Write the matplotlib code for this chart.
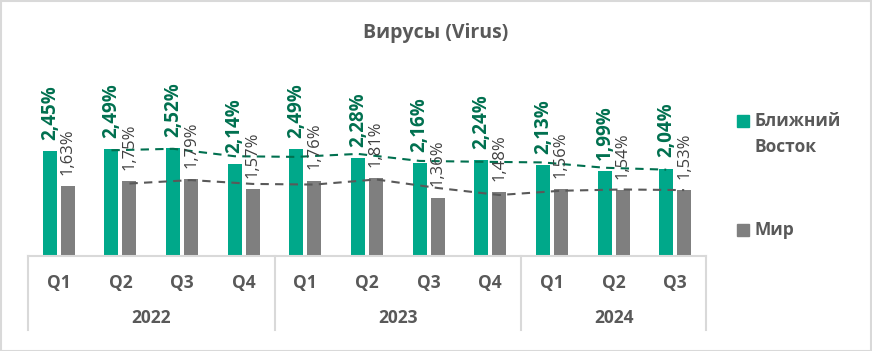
import numpy as np
import pandas as pd
from matplotlib import pyplot as plt
from matplotlib.patches import Rectangle
from matplotlib import transforms

plt.rcParams['font.family'] = ['Open Sans', 'DejaVu Sans']

quarters = ['Q1', 'Q2', 'Q3', 'Q4', 'Q1', 'Q2', 'Q3', 'Q4', 'Q1', 'Q2', 'Q3']
years = ['2022', '2023', '2024']
year_counts = [4, 4, 3]
middle_east = [2.45, 2.49, 2.52, 2.14, 2.49, 2.28, 2.16, 2.24, 2.13, 1.99, 2.04]
world = [1.63, 1.75, 1.79, 1.57, 1.76, 1.81, 1.36, 1.48, 1.56, 1.54, 1.53]

GREEN = '#00A88A'
GREEN_DARK = '#00704F'
GREY = '#7F7F7F'
TEXT = '#595959'
LINE = '#D9D9D9'

W, H = 872, 351
fig = plt.figure(figsize=(W / 100, H / 100), dpi=100)

# plot area in pixels: x 28..707, baseline at 255.5, top at 60
left, right, base, top = 28, 706, 255.5, 60
ax = fig.add_axes([left / W, (H - base) / H, (right - left) / W, (base - top) / H])
ax.set_xlim(-0.5, len(quarters) - 0.5)
ax.set_ylim(0, (base - top) / 42.6)
ax.axis('off')

x = np.arange(len(quarters))
off = 0.146
bw = 0.227
ax.bar(x - off, middle_east, width=bw, color=GREEN, zorder=2)
ax.bar(x + off, world, width=bw, color=GREY, zorder=2)

# moving average trendlines (period 2), as in the original
me_ma = pd.Series(middle_east).rolling(2).mean()
w_ma = pd.Series(world).rolling(2).mean()
ax.plot(x[1:] - off, me_ma[1:], ls=(0, (4, 3)), color=GREEN_DARK, lw=1.5, zorder=3)
ax.plot(x[1:] + off, w_ma[1:], ls=(0, (4, 3)), color='#595959', lw=1.5, zorder=3)

def fmt(v):
    return f"{v:.2f}%".replace('.', ',')

for i in range(len(quarters)):
    ax.annotate(fmt(middle_east[i]), (x[i] - off, middle_east[i]), xytext=(0, 8),
                textcoords='offset points', rotation=90, ha='center', va='bottom',
                color=GREEN_DARK, fontsize=13.5, fontweight='bold', zorder=4)
    ax.annotate(fmt(world[i]), (x[i] + off, world[i]), xytext=(0, 8),
                textcoords='offset points', rotation=90, ha='center', va='bottom',
                color='#404040', fontsize=12, zorder=4)

# category axis
trans = transforms.blended_transform_factory(ax.transData, ax.transAxes)
ah = base - top
ax.plot([-0.5, len(quarters) - 0.5], [0, 0], color=LINE, lw=1.5, transform=trans, clip_on=False)
bounds = np.concatenate([[0], np.cumsum(year_counts)]) - 0.5
for b in bounds:
    ax.plot([b, b], [0, -(330 - base) / ah], color=LINE, lw=1.5, transform=trans, clip_on=False)
for i, q in enumerate(quarters):
    ax.text(x[i], -(283 - base) / ah, q, transform=trans, ha='center', va='center',
            color=TEXT, fontsize=12.5, fontweight='bold')
for j, yr in enumerate(years):
    ax.text((bounds[j] + bounds[j + 1]) / 2, -(318 - base) / ah, yr, transform=trans,
            ha='center', va='center', color=TEXT, fontsize=12.5, fontweight='bold')

# title
fig.text(436 / W, 1 - 33 / H, 'Вирусы (Virus)', ha='center', va='center',
         color=TEXT, fontsize=14, fontweight='bold')

# legend
def legend_item(y_px, color, label):
    fig.patches.append(Rectangle((737 / W, 1 - (y_px + 6) / H), 12 / W, 12 / H,
                                 transform=fig.transFigure, color=color))
    fig.text(754 / W, 1 - y_px / H, label, ha='left', va='center', color=TEXT,
             fontsize=12.5, fontweight='bold')

legend_item(121, GREEN, 'Ближний')
fig.text(754 / W, 1 - 147 / H, 'Восток', ha='left', va='center', color=TEXT,
         fontsize=12.5, fontweight='bold')
legend_item(230, GREY, 'Мир')

# outer border
fig.patches.append(Rectangle((0.5 / W, 0.5 / H), (W - 1.5) / W, (H - 1.5) / H,
                             transform=fig.transFigure, fill=False, ec=LINE, lw=1.5))

fig.savefig('out.png', dpi=100)
